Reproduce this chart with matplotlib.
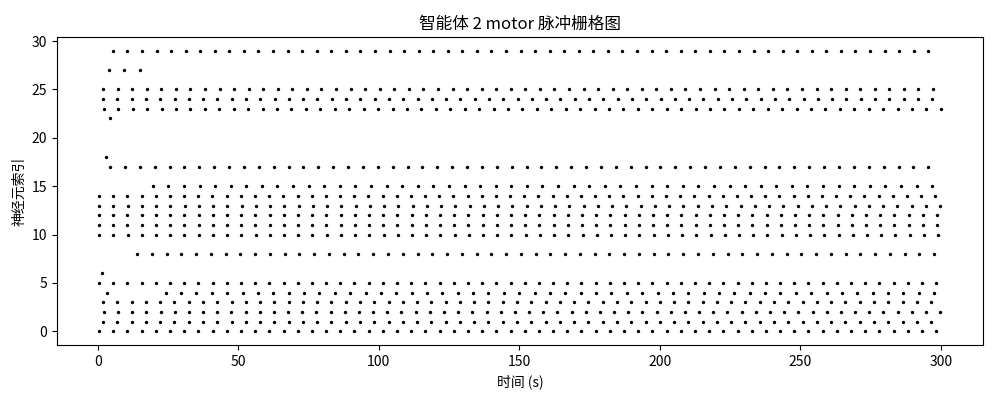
import numpy as np
import matplotlib
matplotlib.use('Agg')
import matplotlib.pyplot as plt

plt.rcParams['font.family'] = ['Noto Sans CJK SC', 'DejaVu Sans']
plt.rcParams['axes.unicode_minus'] = False

# regular spike trains: neuron, first spike (s), last spike (s), spike count
train_neuron = [0, 1, 2, 3, 4, 5, 8, 10, 11, 12, 13, 14, 15, 17, 23, 24, 25, 29]
train_first = [0.5, 1.9, 2.2, 1.9, 24.2, 0.5, 14.0, 0.5, 0.5, 0.5, 0.5, 0.5, 19.6, 4.4, 2.2, 1.9, 1.9, 5.4]
train_last = [298.3, 296.5, 299.7, 296.5, 297.6, 298.3, 297.6, 299.0, 298.6, 298.6, 299.7, 298.0, 296.9, 295.5, 300.0, 296.9, 297.2, 295.5]
train_count = [60, 59, 60, 59, 51, 60, 55, 60, 60, 60, 60, 60, 51, 56, 59, 59, 58, 57]

# isolated spikes
single_neuron = [4, 6, 18, 22, 27, 27, 27]
single_time = [3.3, 1.5, 2.9, 4.4, 4.0, 9.3, 15.0]

times = []
ids = []
for n, t0, t1, c in zip(train_neuron, train_first, train_last, train_count):
    t = np.linspace(t0, t1, c)
    times.extend(t)
    ids.extend([n] * c)
times.extend(single_time)
ids.extend(single_neuron)

fig = plt.figure(figsize=(10, 4), dpi=100)
plt.scatter(times, ids, s=2, c='black')
plt.title('智能体 2 motor 脉冲栅格图')
plt.xlabel('时间 (s)')
plt.ylabel('神经元索引')
plt.subplots_adjust(left=0.057, right=0.983, top=0.908, bottom=0.137)
plt.savefig('out.png')
